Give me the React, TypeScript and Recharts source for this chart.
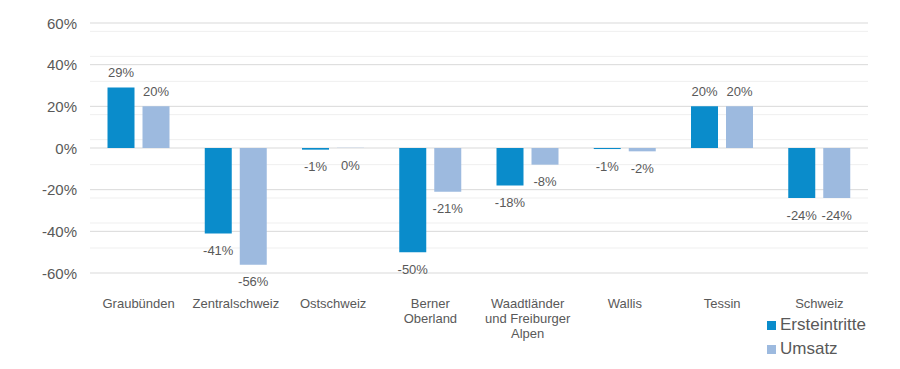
import React from "react";
import {
  BarChart,
  Bar,
  XAxis,
  YAxis,
  CartesianGrid,
  LabelList,
} from "recharts";

const categories = [
  "Graubünden",
  "Zentralschweiz",
  "Ostschweiz",
  "Berner\nOberland",
  "Waadtländer\nund Freiburger\nAlpen",
  "Wallis",
  "Tessin",
  "Schweiz",
];
const ersteintritte = [29, -41, -0.8, -50, -18, -0.5, 20, -24];
const umsatz = [20, -56, 0.1, -21, -8, -1.6, 20, -24];
const majorTicks = [-60, -40, -20, 0, 20, 40, 60];
const minorTicks = [
  -56, -52, -48, -44, -36, -32, -28, -24, -16, -12, -8, -4, 4, 8, 12, 16, 24,
  28, 32, 36, 44, 48, 52, 56,
];
const seriesNames = ["Ersteintritte", "Umsatz"];

const data = categories.map((c, i) => ({
  name: c,
  Ersteintritte: ersteintritte[i],
  Umsatz: umsatz[i],
}));

const C_E = "#0A8CCB";
const C_U = "#9DBADF";
const TEXT = "#595959";
const FONT = "'Liberation Sans', Arial, sans-serif";

const rounded = (v: number) => Math.sign(v) * Math.round(Math.abs(v));
const fmt = (v: number) => (rounded(v) === 0 ? 0 : rounded(v)) + "%";

const DataLabel = (props: any) => {
  const { x, y, width, height, value } = props;
  const top = Math.min(y, y + height);
  const bottom = Math.max(y, y + height);
  const cx = x + width / 2;
  const ty = rounded(value) > 0 ? top - 15 : bottom + 17;
  return (
    <text
      x={cx}
      y={ty}
      textAnchor="middle"
      dominantBaseline="central"
      fontSize={13}
      fill={TEXT}
      fontFamily={FONT}
    >
      {fmt(value)}
    </text>
  );
};

const XTick = (props: any) => {
  const { x, y, payload } = props;
  const lines = String(payload.value).split("\n");
  return (
    <text
      x={x}
      y={y}
      textAnchor="middle"
      fontSize={13}
      fill={TEXT}
      fontFamily={FONT}
    >
      {lines.map((l, i) => (
        <tspan key={i} x={x} dy={i === 0 ? 35 : 15}>
          {l}
        </tspan>
      ))}
    </text>
  );
};

const YTick = (props: any) => {
  const { x, y, payload } = props;
  return (
    <text
      x={x}
      y={y}
      textAnchor="end"
      dominantBaseline="central"
      fontSize={15}
      fill={TEXT}
      fontFamily={FONT}
    >
      {payload.value + "%"}
    </text>
  );
};

const LegendBox = () => {
  const colors = [C_E, C_U];
  return (
    <div
      style={{
        position: "absolute",
        left: 767,
        top: 313,
        fontFamily: FONT,
      }}
    >
      {seriesNames.map((label, i) => (
        <div
          key={label}
          style={{
            display: "flex",
            alignItems: "center",
            height: 24,
            fontSize: 17,
            color: TEXT,
          }}
        >
          <span
            style={{
              display: "inline-block",
              width: 9,
              height: 9,
              background: colors[i],
              marginRight: 4,
            }}
          />
          {label}
        </div>
      ))}
    </div>
  );
};

export default function App() {
  return (
    <div
      style={{
        position: "absolute",
        left: 0,
        top: 0,
        width: 900,
        height: 369,
        background: "#fff",
      }}
    >
      <BarChart
        width={900}
        height={369}
        data={data}
        margin={{ top: 23, right: 32, bottom: 66, left: 0 }}
        barCategoryGap="18%"
        barGap={8}
      >
        <CartesianGrid
          vertical={false}
          horizontalValues={minorTicks}
          stroke="#EFEFEF"
          strokeWidth={1}
        />
        <CartesianGrid
          vertical={false}
          horizontalValues={majorTicks}
          stroke="#D9D9D9"
          strokeWidth={1}
        />
        <XAxis
          dataKey="name"
          height={30}
          axisLine={false}
          tickLine={false}
          tickSize={0}
          tickMargin={0}
          interval={0}
          tick={<XTick />}
        />
        <YAxis
          domain={[-60, 60]}
          ticks={majorTicks}
          width={90}
          axisLine={false}
          tickLine={false}
          tickSize={0}
          tickMargin={13}
          tick={<YTick />}
        />
        <Bar dataKey="Ersteintritte" fill={C_E} isAnimationActive={false}>
          <LabelList dataKey="Ersteintritte" content={<DataLabel />} />
        </Bar>
        <Bar dataKey="Umsatz" fill={C_U} isAnimationActive={false}>
          <LabelList dataKey="Umsatz" content={<DataLabel />} />
        </Bar>
      </BarChart>
      <LegendBox />
    </div>
  );
}
